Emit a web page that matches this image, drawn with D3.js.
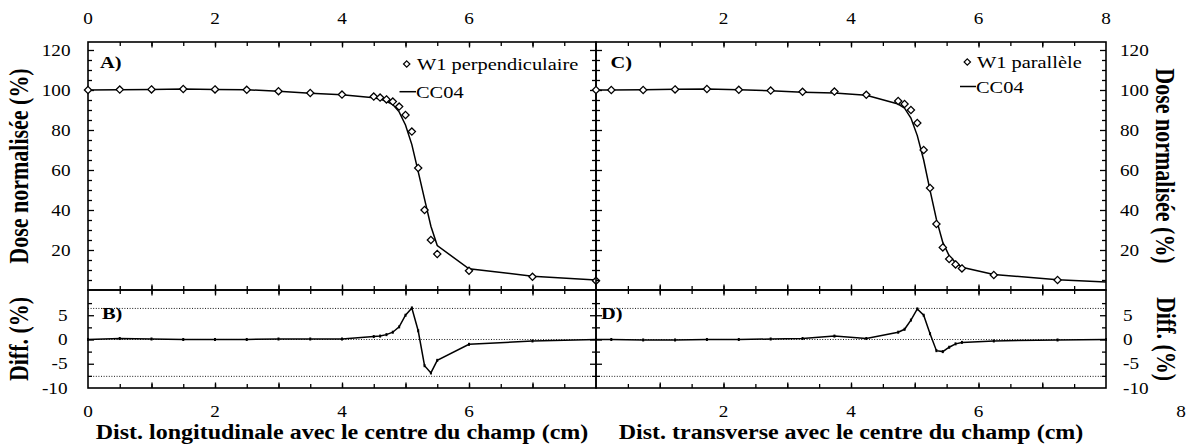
<!DOCTYPE html>
<html>
<head>
<meta charset="utf-8">
<script src="https://cdn.jsdelivr.net/npm/d3@7"></script>
<style>
  body { margin: 0; background: #fff; }
  svg text { font-family: "Liberation Serif", "Times New Roman", serif; fill: #000; }
</style>
</head>
<body>
<svg id="chart" width="1187" height="448"></svg>
<script>
// ---- Profil longitudinal (A, B) ----
const xLong = [0, 0.5, 1, 1.5, 2, 2.5, 3, 3.5, 4, 4.5, 4.6, 4.7, 4.8, 4.9, 5.0, 5.1, 5.2, 5.3, 5.4, 5.5, 6, 7, 8];
const w1Perp = [100, 100.2, 100.3, 100.5, 100.3, 100.1, 99.4, 98.5, 97.7, 96.7, 96.2, 95.3, 94.2, 91.7, 87.5, 79.2, 61, 40, 25, 18, 9.6, 6.6, 4.6];
const cc04Long = [100, 100.1, 100.3, 100.5, 100.3, 100.1, 99.4, 98.4, 97.6, 96.1, 95.5, 94.3, 92.7, 89.1, 82.5, 72.7, 59.2, 45.4, 31.9, 22.2, 10.6, 6.9, 5];
const diffLong = [0, 0.2, 0.1, 0, 0, 0, 0.1, 0.1, 0.1, 0.6, 0.7, 1.0, 1.5, 2.6, 5.0, 6.5, 1.8, -5.4, -6.9, -4.3, -1.0, -0.3, 0];

// ---- Profil transverse (C, D) ----
const xTrans = [0, 0.24, 0.74, 1.24, 1.74, 2.24, 2.74, 3.24, 3.74, 4.24, 4.74, 4.84, 4.94, 5.04, 5.14, 5.24, 5.34, 5.44, 5.54, 5.64, 5.74, 6.24, 7.24];
const w1Para = [100, 100, 100, 100.3, 100.5, 100.1, 99.7, 99.1, 99.2, 97.6, 94.5, 93, 90, 83.5, 70, 51, 33, 21.3, 15.5, 12.8, 10.8, 7.5, 5];
const xTransCalc = [0, 0.24, 0.74, 1.24, 1.74, 2.24, 2.74, 3.24, 3.74, 4.24, 4.74, 4.84, 4.94, 5.04, 5.14, 5.24, 5.34, 5.44, 5.54, 5.64, 5.74, 6.24, 7.24, 8];
const cc04Trans = [100, 100, 100.1, 100.4, 100.5, 100.1, 99.6, 98.9, 98.5, 97.4, 93, 90.9, 86, 77.2, 65, 49.8, 35.3, 23.8, 17.1, 13.7, 11.4, 7.8, 5.1, 4];
const diffTrans = [0, 0, -0.1, -0.1, 0, 0, 0.1, 0.2, 0.7, 0.2, 1.5, 2.1, 4.0, 6.3, 5.0, 1.2, -2.3, -2.5, -1.6, -0.9, -0.6, -0.3, -0.1, 0];

// ---- Lignes de référence et graduations ----
const diffRefLines = [6.4, 0, -7.6];
const xLabelsLeft = [0, 2, 4, 6];
const xLabelsRight = [2, 4, 6, 8];
const doseLabels = [20, 40, 60, 80, 100, 120];
const diffLabels = [5, 0, -5, -10];
const xMinorTicks = [0.5, 1, 1.5, 2, 2.5, 3, 3.5, 4, 4.5, 5, 5.5, 6, 6.5, 7, 7.5];
const xMajorTicks = [1, 2, 3, 4, 5, 6, 7];
const doseMinorTicks = [5, 10, 15, 25, 30, 35, 45, 50, 55, 65, 70, 75, 85, 90, 95, 105, 110, 115];
const doseMajorTicks = [20, 40, 60, 80, 100, 120];
const diffMinorTicks = [-7.5, -2.5, 2.5, 7.5];
const diffMajorTicks = [-5, 0, 5];

// ---- Mise en page ----
const SX = 1.2;            // étirement horizontal du texte
const top0 = 42, mid0 = 290, bot0 = 388;
const xL = d3.scaleLinear().domain([0, 8]).range([88, 596]);
const xR = d3.scaleLinear().domain([0, 8]).range([596, 1106]);
const yDose = d3.scaleLinear().domain([0, 124]).range([mid0, top0]);
const yDiff = d3.scaleLinear().domain([-10, 10.2]).range([bot0, mid0]);

const svg = d3.select("#chart");

function label(x, y, str, opt = {}) {
  const size = opt.size || 16, anchor = opt.anchor || "middle", weight = opt.weight || "normal";
  const rot = opt.rotate || 0;
  const sc = rot ? `scale(1,${SX})` : `scale(${SX},1)`;
  return svg.append("text")
    .attr("transform", `translate(${x},${y}) rotate(${rot}) ${sc}`)
    .attr("text-anchor", anchor)
    .attr("font-size", size)
    .attr("font-weight", weight)
    .attr("dy", opt.dy || 0)
    .text(str);
}

function tickAxis(axisFn, scale, values, size, tx, ty) {
  const g = svg.append("g")
    .attr("transform", `translate(${tx},${ty})`)
    .call(axisFn(scale).tickValues(values).tickSize(-size).tickFormat(""));
  g.select(".domain").remove();
  g.selectAll("line").attr("stroke", "#000").attr("stroke-width", 1.3);
  return g;
}

function diamond(r) { return `M0,${-r}L${r},0L0,${r}L${-r},0Z`; }

function drawPanel(x, opts) {
  const [x0, x1] = x.range();

  // tracé de référence (pointillés) du graphique des différences
  svg.append("g").selectAll("line").data(diffRefLines).join("line")
    .attr("x1", x0).attr("x2", x1)
    .attr("y1", d => yDiff(d)).attr("y2", d => yDiff(d))
    .attr("stroke", "#000").attr("stroke-width", 0.9)
    .attr("stroke-dasharray", "1,1.6");

  // graduations horizontales (intérieures)
  for (const [fn, y] of [[d3.axisTop, top0], [d3.axisBottom, mid0], [d3.axisTop, mid0], [d3.axisBottom, bot0]]) {
    tickAxis(fn, x, xMinorTicks, 4, 0, y);
    tickAxis(fn, x, xMajorTicks, 5.5, 0, y);
  }
  // graduations verticales (intérieures) des deux côtés
  for (const [fn, xp] of [[d3.axisLeft, x0], [d3.axisRight, x1]]) {
    tickAxis(fn, yDose, doseMinorTicks, 4, xp, 0);
    tickAxis(fn, yDose, doseMajorTicks, 6, xp, 0);
    tickAxis(fn, yDiff, diffMinorTicks, 4, xp, 0);
    tickAxis(fn, yDiff, diffMajorTicks, 6, xp, 0);
  }

  // cadres
  svg.append("rect").attr("x", x0).attr("y", top0).attr("width", x1 - x0).attr("height", mid0 - top0)
    .attr("fill", "none").attr("stroke", "#000").attr("stroke-width", 1.6);
  svg.append("rect").attr("x", x0).attr("y", mid0).attr("width", x1 - x0).attr("height", bot0 - mid0)
    .attr("fill", "none").attr("stroke", "#000").attr("stroke-width", 1.6);

  // courbe calculée CC04
  const calcLine = d3.line().x((d, i) => x(opts.xc[i])).y(d => yDose(d));
  svg.append("path").datum(opts.calc).attr("d", calcLine)
    .attr("fill", "none").attr("stroke", "#000").attr("stroke-width", 1.5);

  // points mesurés W1
  svg.append("g").selectAll("path").data(opts.meas).join("path")
    .attr("transform", (d, i) => `translate(${x(opts.xm[i])},${yDose(d)})`)
    .attr("d", diamond(3.6))
    .attr("fill", "#fff").attr("stroke", "#000").attr("stroke-width", 1.3);

  // différences
  const diffLine = d3.line().x((d, i) => x(opts.xd[i])).y(d => yDiff(d));
  svg.append("path").datum(opts.diff).attr("d", diffLine)
    .attr("fill", "none").attr("stroke", "#000").attr("stroke-width", 1.5);
  svg.append("g").selectAll("rect").data(opts.diff).join("rect")
    .attr("x", (d, i) => x(opts.xd[i]) - 1).attr("y", d => yDiff(d) - 1.5)
    .attr("width", 2).attr("height", 3).attr("fill", "#000");

  // étiquettes de panneau
  label(opts.tagX, 68.3, opts.tagTop, { size: 17, weight: "bold", anchor: "start" });
  label(opts.tagX2, 318.5, opts.tagBot, { size: 17, weight: "bold", anchor: "start" });

  // légende
  const lg = opts.legend;
  svg.append("path").attr("transform", `translate(${lg.mx},${lg.my})`).attr("d", diamond(3.2))
    .attr("fill", "#fff").attr("stroke", "#000").attr("stroke-width", 1.2);
  label(lg.tx, lg.my + 6, opts.measName, { size: 17, anchor: "start" });
  svg.append("line").attr("x1", lg.lx0).attr("x2", lg.tx - 1).attr("y1", lg.ly).attr("y2", lg.ly)
    .attr("stroke", "#000").attr("stroke-width", 1.5);
  label(lg.tx - 1, lg.ly + 6, "CC04", { size: 17, anchor: "start" });

  // valeurs des abscisses (haut et bas)
  opts.xTop.forEach(v => label(x(v), 24, v, { size: 16 }));
  opts.xBot.forEach(v => label(x(v) + (opts.botShift[v] || 0), 417, v, { size: 16 }));

  // titre de l'axe des abscisses
  label((x0 + x1) / 2, 439, opts.title, { size: 20, weight: "bold" });
}

drawPanel(xL, {
  xm: xLong, meas: w1Perp, xc: xLong, calc: cc04Long, xd: xLong, diff: diffLong,
  tagTop: "A)", tagBot: "B)", tagX: 100, tagX2: 102,
  measName: "W1 perpendiculaire",
  legend: { mx: 406.7, my: 64, tx: 417, lx0: 399.5, ly: 91.7 },
  xTop: xLabelsLeft, xBot: xLabelsLeft, botShift: {},
  title: "Dist. longitudinale avec le centre du champ (cm)"
});

drawPanel(xR, {
  xm: xTrans, meas: w1Para, xc: xTransCalc, calc: cc04Trans, xd: xTransCalc, diff: diffTrans,
  tagTop: "C)", tagBot: "D)", tagX: 610.5, tagX2: 601,
  measName: "W1 parallèle",
  legend: { mx: 967.3, my: 62, tx: 977, lx0: 960, ly: 86.5 },
  xTop: xLabelsRight, xBot: xLabelsRight, botShift: { 8: 75 },
  title: "Dist. transverse avec le centre du champ (cm)"
});

// valeurs des ordonnées
doseLabels.forEach(v => label(70.5, yDose(v) + 5.5, v, { size: 16, anchor: "end" }));
diffLabels.forEach(v => label(67.5, yDiff(v) + 5.5, v, { size: 16, anchor: "end" }));
doseLabels.forEach(v => label(1120, yDose(v) + 5.5, v, { size: 16, anchor: "start" }));
diffLabels.forEach(v => label(1123, yDiff(v) + 5.5, v, { size: 16, anchor: "start" }));

// titres des ordonnées
label(19, (top0 + mid0) / 2, "Dose normalisée (%)", { size: 22, weight: "bold", rotate: -90, dy: "0.35em" });
label(19, (mid0 + bot0) / 2, "Diff. (%)", { size: 22, weight: "bold", rotate: -90, dy: "0.35em" });
label(1165, (top0 + mid0) / 2, "Dose normalisée (%)", { size: 22, weight: "bold", rotate: 90, dy: "0.35em" });
label(1166, (mid0 + bot0) / 2, "Diff. (%)", { size: 22, weight: "bold", rotate: 90, dy: "0.35em" });
</script>
</body>
</html>
